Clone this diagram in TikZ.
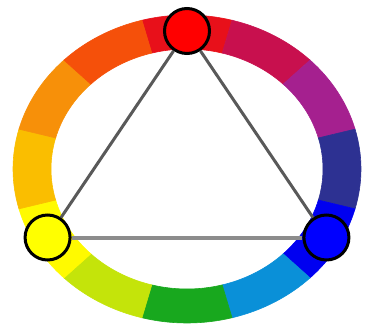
\documentclass[tikz,border=0pt]{standalone}
\usepackage{tikz}
\usetikzlibrary{calc}
\definecolor{wheelred}{RGB}{232,16,26}
\definecolor{wheelcrimson}{RGB}{200,16,78}
\definecolor{wheelpurple}{RGB}{165,32,143}
\definecolor{wheelindigo}{RGB}{45,49,146}
\definecolor{wheelblue}{RGB}{0,0,240}
\definecolor{wheelazure}{RGB}{10,144,216}
\definecolor{wheelgreen}{RGB}{24,168,30}
\definecolor{wheellime}{RGB}{196,228,10}
\definecolor{wheelyellow}{RGB}{255,250,0}
\definecolor{wheelgold}{RGB}{250,190,0}
\definecolor{wheelorange}{RGB}{247,144,9}
\definecolor{wheelvermilion}{RGB}{245,80,10}

\begin{document}
\begin{tikzpicture}[
        x=1pt, y=1pt,
        hue/.style={
            circle,
            draw=black,
            line width=3pt,
            minimum size=45pt,
            inner sep=0pt
        },
        side/.style={
            line width=3pt,
            draw=black!65
        },
        base/.style={
            line width=4pt,
            draw=black!45
        }
    ]

    \useasboundingbox (0,0) rectangle (367,333);
    \coordinate (c) at (187,164);

    % twelve ring segments
    \foreach \ang/\col in {90/wheelred, 60/wheelcrimson, 30/wheelpurple,
        0/wheelindigo, -30/wheelblue, -60/wheelazure, -90/wheelgreen,
        -120/wheellime, -150/wheelyellow, -180/wheelgold, -210/wheelorange,
        -240/wheelvermilion} {
        \pgfmathsetmacro{\a}{\ang-15}
        \pgfmathsetmacro{\b}{\ang+15}
        \fill[\col, draw=\col, line width=0.6pt]
            ($(c)+(\a:174 and 154)$)
            arc[start angle=\a, end angle=\b, x radius=174, y radius=154]
            -- ($(c)+(\b:136 and 120)$)
            arc[start angle=\b, end angle=\a, x radius=136, y radius=120]
            -- cycle;
    }

    \node[hue, fill={rgb,255:red,255;green,0;blue,0}] (red)
        at ($(c)+(90:158 and 138)$) {};
    \node[hue, fill={rgb,255:red,255;green,255;blue,0}] (yellow)
        at ($(c)+(210:161 and 137)$) {};
    \node[hue, fill={rgb,255:red,0;green,0;blue,255}] (blue)
        at ($(c)+(330:161 and 137)$) {};

    \draw[side] (red) -- (yellow);
    \draw[side] (red) -- (blue);
    \draw[base] (yellow) -- (blue);

\end{tikzpicture}
\end{document}
